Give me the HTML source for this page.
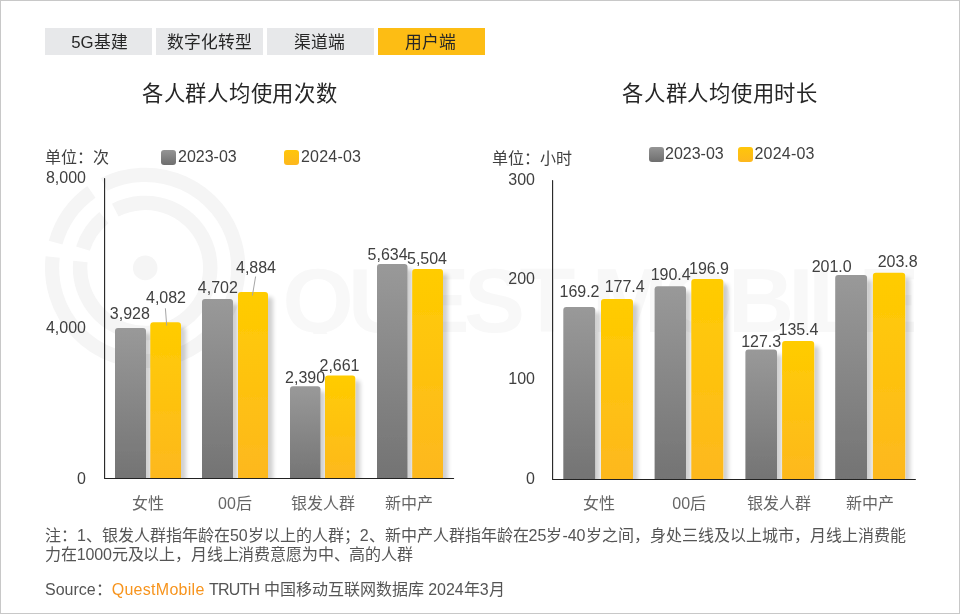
<!DOCTYPE html>
<html lang="zh-CN">
<head>
<meta charset="utf-8">
<title>各人群人均使用次数 / 各人群人均使用时长</title>
<style>
html,body{margin:0;padding:0;background:#fff;}
body{width:960px;height:614px;position:relative;overflow:hidden;will-change:transform;font-family:"Liberation Sans",sans-serif;color:#404040;font-size:16px;}
.frame{position:absolute;left:0;top:0;width:958px;height:612px;border:1px solid #c8c8c8;}
svg.g{position:absolute;left:0;top:0;}
.tab{position:absolute;top:28px;height:27px;width:106.9px;background:#e7e8ea;text-align:center;line-height:29px;font-size:16.8px;color:#262626;white-space:nowrap;}
.tab.on{background:#fdbd14;}
.wm{position:absolute;left:282.5px;top:250px;font-size:91.5px;line-height:100px;font-weight:bold;color:#f8f8f8;letter-spacing:-5.6px;white-space:nowrap;height:84px;overflow:hidden;}
.wm span{margin-left:22px;}
.title{position:absolute;top:79px;width:300px;text-align:center;font-size:21.3px;line-height:30px;color:#262626;white-space:nowrap;letter-spacing:0.75px;text-indent:0.75px;}
.t{position:absolute;white-space:nowrap;line-height:18px;font-size:16px;}
.c{transform:translateX(-50%);}
.r{transform:translateX(-100%);}
.ax{color:#404040;}
.cat{color:#666;}
.dl{color:#404040;}
.sw{position:absolute;width:15px;height:15px;border-radius:3px;}
.sw.g{background:linear-gradient(#959595,#6e6e6e);}
.sw.y{background:linear-gradient(#ffc60a,#fdb71e);}
.note{position:absolute;left:45px;top:527px;font-size:16px;line-height:18.6px;color:#555555;white-space:nowrap;}
.note .l2{letter-spacing:-0.15px;}
.src{position:absolute;left:45px;top:580px;font-size:16px;line-height:20px;color:#555555;white-space:nowrap;}
.src b{font-weight:normal;color:#f7941d;letter-spacing:0.28px;}
.src i{font-style:normal;letter-spacing:-0.8px;}
</style>
</head>
<body>
<div class="frame"></div>
<div class="wm">QUEST<span>MOBILE</span></div>
<svg class="g" width="960" height="614" viewBox="0 0 960 614">
<defs>
<linearGradient id="gg" x1="0" y1="0" x2="0" y2="1"><stop offset="0" stop-color="#999999"/><stop offset="1" stop-color="#727272"/></linearGradient>
<linearGradient id="gy" x1="0" y1="0" x2="0" y2="1"><stop offset="0" stop-color="#ffcc00"/><stop offset="1" stop-color="#fdb720"/></linearGradient>
<filter id="sh" x="-30%" y="-10%" width="180%" height="120%"><feGaussianBlur in="SourceAlpha" stdDeviation="2"/><feOffset dx="5" dy="4.5" result="o"/><feComponentTransfer><feFuncA type="linear" slope="0.185"/></feComponentTransfer><feMerge><feMergeNode/><feMergeNode in="SourceGraphic"/></feMerge></filter>
<clipPath id="cl"><rect x="0" y="0" width="960" height="478"/></clipPath>
<clipPath id="cr"><rect x="0" y="0" width="960" height="479"/></clipPath>
</defs>
<g fill="none" stroke="#f5f5f5"><path d="M104.0 184.4A93.1 93.1 0 1 1 52.7 257.0" stroke-width="14.2"/><path d="M55.6 242.7A93.1 93.1 0 0 1 91.4 191.9" stroke-width="14.2"/><path d="M115.3 210.1A65.1 65.1 0 1 1 80.4 261.5" stroke-width="14.4"/><path d="M83.0 248.6A65.1 65.1 0 0 1 103.9 217.6" stroke-width="14.4"/></g><circle cx="145.2" cy="267.9" r="12.3" fill="#f5f5f5"/>
<g clip-path="url(#cl)"><path d="M115 486.0V331.1Q115 328.1 118.0 328.1H143.0Q146 328.1 146 331.1V486.0Z" fill="url(#gg)" filter="url(#sh)"/><path d="M202 486.0V302.0Q202 299.0 205.0 299.0H230.0Q233 299.0 233 302.0V486.0Z" fill="url(#gg)" filter="url(#sh)"/><path d="M290 486.0V389.3Q290 386.3 293.0 386.3H317.5Q320.5 386.3 320.5 389.3V486.0Z" fill="url(#gg)" filter="url(#sh)"/><path d="M377 486.0V267.0Q377 264.0 380.0 264.0H404.5Q407.5 264.0 407.5 267.0V486.0Z" fill="url(#gg)" filter="url(#sh)"/></g>
<g clip-path="url(#cl)"><path d="M150.3 486.0V325.2Q150.3 322.2 153.3 322.2H178.0Q181 322.2 181 325.2V486.0Z" fill="url(#gy)" filter="url(#sh)"/><path d="M238 486.0V295.0Q238 292.0 241.0 292.0H265.0Q268 292.0 268 295.0V486.0Z" fill="url(#gy)" filter="url(#sh)"/><path d="M325 486.0V378.6Q325 375.6 328.0 375.6H352.3Q355.3 375.6 355.3 378.6V486.0Z" fill="url(#gy)" filter="url(#sh)"/><path d="M412.2 486.0V272.0Q412.2 269.0 415.2 269.0H440.0Q443 269.0 443 272.0V486.0Z" fill="url(#gy)" filter="url(#sh)"/></g>
<g clip-path="url(#cr)"><path d="M563.3 487.0V310.1Q563.3 307.1 566.3 307.1H592.2Q595.2 307.1 595.2 310.1V487.0Z" fill="url(#gg)" filter="url(#sh)"/><path d="M654.6 487.0V289.3Q654.6 286.3 657.6 286.3H683.0Q686 286.3 686 289.3V487.0Z" fill="url(#gg)" filter="url(#sh)"/><path d="M745.4 487.0V352.4Q745.4 349.4 748.4 349.4H774.0Q777 349.4 777 352.4V487.0Z" fill="url(#gg)" filter="url(#sh)"/><path d="M835.2 487.0V278.0Q835.2 275.0 838.2 275.0H864.1Q867.1 275.0 867.1 278.0V487.0Z" fill="url(#gg)" filter="url(#sh)"/></g>
<g clip-path="url(#cr)"><path d="M601 487.0V302.0Q601 299.0 604.0 299.0H630.0Q633 299.0 633 302.0V487.0Z" fill="url(#gy)" filter="url(#sh)"/><path d="M691.3 487.0V282.0Q691.3 279.0 694.3 279.0H720.3Q723.3 279.0 723.3 282.0V487.0Z" fill="url(#gy)" filter="url(#sh)"/><path d="M782.1 487.0V344.0Q782.1 341.0 785.1 341.0H811.2Q814.2 341.0 814.2 344.0V487.0Z" fill="url(#gy)" filter="url(#sh)"/><path d="M872.9 487.0V275.7Q872.9 272.7 875.9 272.7H902.2Q905.2 272.7 905.2 275.7V487.0Z" fill="url(#gy)" filter="url(#sh)"/></g>
<g stroke="#a6a6a6" stroke-width="1" fill="none"><path d="M165.4 308.3L166.7 325.6"/><path d="M255.6 276.5L252.4 295.6"/></g>
<g stroke="#222222" stroke-width="1.1" fill="none" stroke-linejoin="round" stroke-linecap="round"><path d="M104.6 178.5V478.45H453.6"/><path d="M552.6 180.5V479.45H915.4"/></g>
</svg>
<div class="tab" style="left:45px;text-indent:2px">5G基建</div>
<div class="tab" style="left:156px;text-indent:0px">数字化转型</div>
<div class="tab" style="left:267px;text-indent:-1.4px">渠道端</div>
<div class="tab on" style="left:378px;text-indent:-2.8px">用户端</div>
<div class="title" style="left:89.3px">各人群人均使用次数</div>
<div class="title" style="left:569.6px">各人群人均使用时长</div>
<div class="t ax" style="left:45px;top:148.5px;">单位：次</div>
<div class="sw g" style="left:161px;top:150px"></div><div class="t ax" style="left:178px;top:148.3px;">2023-03</div>
<div class="sw y" style="left:284px;top:150px"></div><div class="t ax" style="left:301px;top:148.3px;letter-spacing:0.2px;">2024-03</div>
<div class="t ax" style="left:491.5px;top:149.5px;">单位：小时</div>
<div class="sw g" style="left:649px;top:147px"></div><div class="t ax" style="left:665px;top:145.2px;">2023-03</div>
<div class="sw y" style="left:738px;top:147px"></div><div class="t ax" style="left:754.5px;top:145.2px;letter-spacing:0.2px;">2024-03</div>
<div class="t ax r" style="left:86px;top:169px;">8,000</div>
<div class="t ax r" style="left:86px;top:319px;">4,000</div>
<div class="t ax r" style="left:86px;top:469.5px;">0</div>
<div class="t ax r" style="left:535px;top:170.8px;">300</div>
<div class="t ax r" style="left:535px;top:270.3px;">200</div>
<div class="t ax r" style="left:535px;top:370.3px;">100</div>
<div class="t ax r" style="left:535px;top:470.0px;">0</div>
<div class="t cat c" style="left:148px;top:495px;">女性</div>
<div class="t cat c" style="left:235px;top:495px;">00后</div>
<div class="t cat c" style="left:322.5px;top:495px;">银发人群</div>
<div class="t cat c" style="left:409px;top:495px;">新中产</div>
<div class="t cat c" style="left:598.5px;top:495px;">女性</div>
<div class="t cat c" style="left:689.2px;top:495px;">00后</div>
<div class="t cat c" style="left:779.1px;top:495px;">银发人群</div>
<div class="t cat c" style="left:869.7px;top:495px;">新中产</div>
<div class="t dl c" style="left:129.9px;top:304.5px;">3,928</div>
<div class="t dl c" style="left:166px;top:289.1px;">4,082</div>
<div class="t dl c" style="left:217.9px;top:279.2px;">4,702</div>
<div class="t dl c" style="left:256px;top:258.9px;">4,884</div>
<div class="t dl c" style="left:305.1px;top:368.5px;">2,390</div>
<div class="t dl c" style="left:339.5px;top:356.5px;">2,661</div>
<div class="t dl c" style="left:387.6px;top:245.5px;">5,634</div>
<div class="t dl c" style="left:427px;top:249.60000000000002px;">5,504</div>
<div class="t dl c" style="left:579.5px;top:283px;">169.2</div>
<div class="t dl c" style="left:624.7px;top:278.2px;">177.4</div>
<div class="t dl c" style="left:670.7px;top:266.2px;">190.4</div>
<div class="t dl c" style="left:709px;top:260.2px;">196.9</div>
<div class="t dl c" style="left:761.2px;top:332.6px;">127.3</div>
<div class="t dl c" style="left:798.5px;top:321.2px;">135.4</div>
<div class="t dl c" style="left:831.7px;top:257.5px;">201.0</div>
<div class="t dl c" style="left:897.7px;top:253.3px;">203.8</div>
<div class="note">注：1、银发人群指年龄在50岁以上的人群；2、新中产人群指年龄在25岁-40岁之间，身处三线及以上城市，月线上消费能<br><span class="l2">力在1000元及以上，月线上消费意愿为中、高的人群</span></div>
<div class="src">Source：<b>QuestMobile</b> <i>TRUTH</i> 中国移动互联网数据库 2024年3月</div>
</body>
</html>
